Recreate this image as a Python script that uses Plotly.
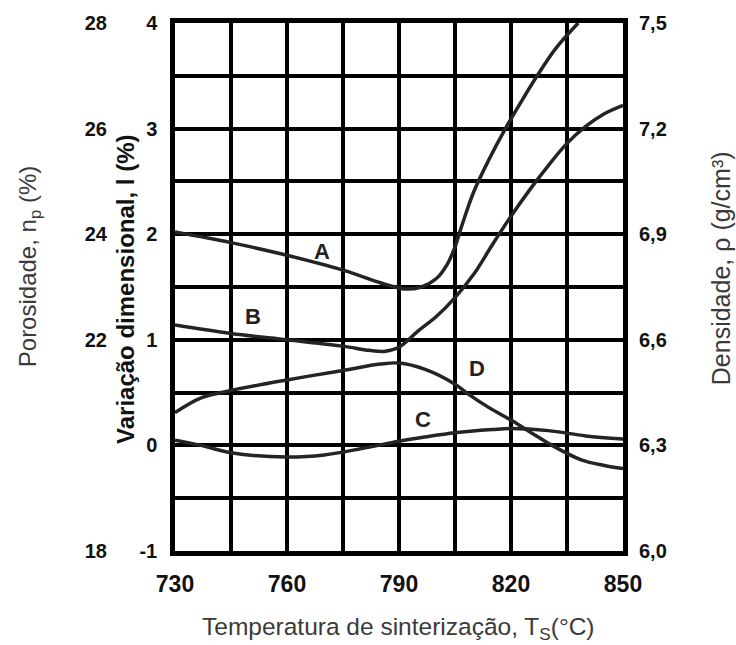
import plotly.graph_objects as go

# Sintering temperature (°C) and dimensional change (%) for each curve
temp_a = [730, 745, 760, 775, 785, 790, 792, 796, 800, 803, 805, 807, 810, 814, 818.5, 823, 827, 832, 838]
var_a = [2.02, 1.92, 1.80, 1.66, 1.54, 1.49, 1.48, 1.50, 1.58, 1.72, 1.88, 2.1, 2.4, 2.7, 3.0, 3.27, 3.5, 3.76, 4.0]

temp_b = [730, 745, 760, 775, 782, 786, 790, 795, 800, 805, 810, 815, 820, 825, 830, 835, 840, 845, 850]
var_b = [1.14, 1.06, 1.0, 0.94, 0.9, 0.89, 0.93, 1.08, 1.22, 1.4, 1.62, 1.9, 2.17, 2.42, 2.65, 2.86, 3.02, 3.14, 3.22]

temp_c = [730, 737, 745, 760, 770, 780, 790, 797, 805, 815, 820, 830, 840, 850]
var_c = [0.05, 0.0, -0.07, -0.11, -0.09, -0.03, 0.04, 0.08, 0.12, 0.15, 0.16, 0.14, 0.09, 0.06]

temp_d = [730, 737, 745, 760, 775, 785, 790, 797, 805, 808, 814, 820, 825, 831, 839, 845, 850]
var_d = [0.31, 0.45, 0.52, 0.62, 0.71, 0.77, 0.78, 0.72, 0.58, 0.5, 0.36, 0.24, 0.13, 0.0, -0.14, -0.19, -0.22]

curves = [(temp_a, var_a), (temp_b, var_b), (temp_c, var_c), (temp_d, var_d)]

# Curve letters and where they sit
label_text = ["A", "B", "C", "D"]
label_x = [769.5, 751, 796.5, 811]
label_y = [1.84, 1.22, 0.25, 0.73]

# Axis tick values
x_ticks = [730, 760, 790, 820, 850]
var_ticks = [-1, 0, 1, 2, 3, 4]
poros_ticks = [18, 22, 24, 26, 28]
dens_ticks = [6.0, 6.3, 6.6, 6.9, 7.2, 7.5]

FONT = "Liberation Sans, Arial, sans-serif"
TEXT_GRAY = "#3c3a38"

fig = go.Figure()
for tx, vy in curves:
    fig.add_trace(go.Scatter(
        x=tx, y=vy, mode="lines",
        line=dict(color="#242424", width=3.5, shape="spline", smoothing=1.0),
        hoverinfo="skip", showlegend=False,
    ))

# invisible traces so the secondary scales are drawn
fig.add_trace(go.Scatter(x=[730], y=[6.0], yaxis="y2", mode="markers",
                         marker=dict(opacity=0), showlegend=False, hoverinfo="skip"))
fig.add_trace(go.Scatter(x=[730], y=[18], yaxis="y3", mode="markers",
                         marker=dict(opacity=0), showlegend=False, hoverinfo="skip"))

for t, lx, ly in zip(label_text, label_x, label_y):
    fig.add_annotation(x=lx, y=ly, text=t, showarrow=False,
                       font=dict(family=FONT, size=22, color="#222", weight="bold"))

L, R, T, B = 60, 113, 17, 94
W, H = 736, 645
plot_w = W - L - R
plot_h = H - T - B
x0 = (175 - L) / plot_w


def px_x(px):
    return (px - L) / plot_w


def px_y(py):
    return (H - B - py) / plot_h


fig.update_layout(
    width=W, height=H,
    margin=dict(l=L, r=R, t=T, b=B),
    paper_bgcolor="white", plot_bgcolor="white",
    separators=",.",
    font=dict(family=FONT),
    xaxis=dict(
        domain=[x0, 1], range=[730, 850],
        tickvals=x_ticks, ticks="",
        ticklabelstandoff=9,
        tickfont=dict(family=FONT, size=23, color="#111", weight="bold"),
        showgrid=True, gridcolor="black", gridwidth=3.5,
        minor=dict(dtick=15, tick0=730, showgrid=True, gridcolor="black", gridwidth=3.5),
        showline=True, linecolor="black", linewidth=4.5, mirror=True,
        zeroline=False,
    ),
    yaxis=dict(
        range=[-1, 4], tickvals=var_ticks, ticktext=[str(v) for v in var_ticks], ticks="",
        ticklabelstandoff=9,
        tickfont=dict(family=FONT, size=20, color="#111", weight="bold"),
        showgrid=True, gridcolor="black", gridwidth=3.5,
        minor=dict(dtick=0.5, tick0=0, showgrid=True, gridcolor="black", gridwidth=3.5),
        showline=True, linecolor="black", linewidth=4.5, mirror=True,
        zeroline=False,
    ),
    yaxis2=dict(
        overlaying="y", side="right", anchor="x",
        range=[6.0, 7.5], tickvals=dens_ticks, tickformat=".1f", ticks="",
        ticklabelstandoff=15,
        tickfont=dict(family=FONT, size=20, color="#111", weight="bold"),
        showgrid=False, showline=False, zeroline=False,
    ),
    yaxis3=dict(
        overlaying="y", side="left", anchor="free", position=px_x(107),
        range=[18, 28], tickvals=poros_ticks, ticks="",
        tickfont=dict(family=FONT, size=20, color="#111", weight="bold"),
        showgrid=False, showline=False, zeroline=False,
    ),
)

# axis titles
fig.add_annotation(xref="paper", yref="paper", x=px_x(126), y=px_y(287),
                   xanchor="center", yanchor="middle",
                   text="Variação dimensional, l (%)", textangle=-90, showarrow=False,
                   font=dict(family=FONT, size=24, color="#111", weight="bold"))
fig.add_annotation(xref="paper", yref="paper", x=px_x(29), y=px_y(264),
                   xanchor="center", yanchor="middle",
                   text="Porosidade, n<sub>p</sub> (%)", textangle=-90, showarrow=False,
                   font=dict(family=FONT, size=24, color=TEXT_GRAY))
fig.add_annotation(xref="paper", yref="paper", x=px_x(721), y=px_y(265),
                   xanchor="center", yanchor="middle",
                   text="Densidade, ρ (g/cm³)", textangle=-90, showarrow=False,
                   font=dict(family=FONT, size=25, color=TEXT_GRAY))
fig.add_annotation(xref="paper", yref="paper", x=px_x(398), y=px_y(629),
                   xanchor="center", yanchor="middle",
                   text="Temperatura de sinterização, T<sub>S</sub>(°C)", showarrow=False,
                   font=dict(family=FONT, size=24.5, color=TEXT_GRAY))

fig.write_html("out.html")
